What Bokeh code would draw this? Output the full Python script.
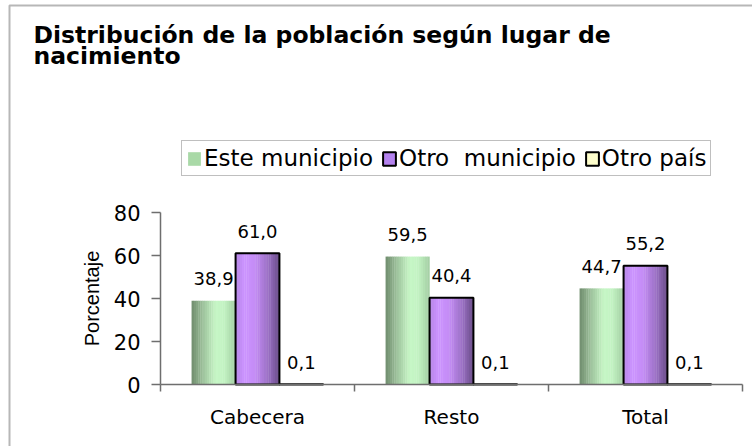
import numpy as np
from bokeh.plotting import figure
from bokeh.models import (FixedTicker, Label, Legend, LegendItem, Range1d,
                          LinearAxis, BoxAnnotation)
from bokeh.core.properties import value
from bokeh.embed import file_html
from bokeh.resources import INLINE

# ---------------- data ----------------
categories = ["Cabecera", "Resto", "Total"]
series_names = ["Este municipio", "Otro  municipio", "Otro país"]
este_municipio = [38.9, 59.5, 44.7]
otro_municipio = [61.0, 40.4, 55.2]
otro_pais = [0.1, 0.1, 0.1]
y_ticks = [0, 20, 40, 60, 80]
title_lines = ["Distribución de la población según lugar de", "nacimiento"]
y_label = "Porcentaje"

# ---------------- layout / style ----------------
W, H = 752, 446
PX_X0, PX_X1 = 160, 742      # canvas x of the category axis start / end
PX_Y0, PX_Y1 = 384, 212      # canvas y of value axis 0 / 80
BAR_W = 0.226
N_STRIPS = 20
AXIS_COLOR = "#6e6e6e"
GREEN_STOPS = [(0.0, "#6f8c6d"), (0.25, "#9dc09b"), (0.55, "#c6f7c6"), (0.75, "#c2f2c2"), (1.0, "#a3cda3")]
PURPLE_STOPS = [(0.0, "#b585e6"), (0.2, "#cc94ff"), (0.45, "#c48cf5"), (0.75, "#9a70c4"), (1.0, "#6a4c88")]
YELLOW_STOPS = [(0.0, "#ffffcc"), (1.0, "#ffffcc")]


def hex_to_rgb(h):
    h = h.lstrip("#")
    return np.array([int(h[i:i + 2], 16) for i in (0, 2, 4)], dtype=float)


def palette_from_stops(stops, n):
    ts = np.array([s[0] for s in stops])
    cols = np.array([hex_to_rgb(s[1]) for s in stops])
    out = []
    for k in range(n):
        t = (k + 0.5) / n
        rgb = [np.interp(t, ts, cols[:, c]) for c in range(3)]
        out.append("#%02x%02x%02x" % tuple(int(round(v)) for v in rgb))
    return out


ncat = len(categories)
x_px = (PX_X1 - PX_X0) / ncat
x_start = -PX_X0 / x_px
x_end = ncat + (W - PX_X1) / x_px
y_px = (PX_Y0 - PX_Y1) / (y_ticks[-1] - y_ticks[0])
y_start = y_ticks[0] - (H - PX_Y0) / y_px
y_end = y_ticks[-1] + PX_Y1 / y_px

p = figure(width=W, height=H,
           x_range=Range1d(x_start, x_end), y_range=Range1d(y_start, y_end),
           output_backend="svg", toolbar_location=None,
           x_axis_type=None, y_axis_type=None, min_border=0)
p.background_fill_color = "white"
p.border_fill_color = "white"
p.outline_line_color = None
p.grid.visible = False

# outer frame of the picture (only left/top edges fall inside)
p.add_layout(BoxAnnotation(left=9, top=5, right=W + 20, bottom=H + 20,
                           left_units="canvas", top_units="canvas",
                           right_units="canvas", bottom_units="canvas",
                           fill_alpha=0, line_color="#111111", line_width=2))

values_list = [este_municipio, otro_municipio, otro_pais]
offsets = [-BAR_W, 0.0, BAR_W]
stops_list = [GREEN_STOPS, PURPLE_STOPS, YELLOW_STOPS]
outline = [None, "black", "black"]

for vals, off, stops, oc in zip(values_list, offsets, stops_list, outline):
    centers = [i + 0.5 + off for i in range(len(vals))]
    pal = palette_from_stops(stops, N_STRIPS)
    sw = BAR_W / N_STRIPS
    for k in range(N_STRIPS):
        dx = -BAR_W / 2 + (k + 0.5) * sw
        p.vbar(x=[c + dx for c in centers], top=vals, bottom=0, width=sw * 1.15,
               fill_color=pal[k], line_color=None)
    if oc is not None:
        p.vbar(x=centers, top=vals, bottom=0, width=BAR_W, fill_color=None,
               line_color=oc, line_width=2)

# value labels
lx, ly, lt = [], [], []
for vals, off in zip(values_list, offsets):
    for i, v in enumerate(vals):
        lx.append(i + 0.5 + off)
        ly.append(v)
        lt.append(f"{v:.1f}".replace(".", ","))
p.text(x=lx, y=ly, text=lt, text_align="center", text_baseline="alphabetic",
       y_offset=-22, text_font=value("DejaVu Sans"), text_font_size="18px",
       text_color="black")

# axes (placed at the data origin)
xa = LinearAxis(fixed_location=0, bounds=(0, ncat))
xa.ticker = FixedTicker(ticks=[i + 0.5 for i in range(ncat)],
                        minor_ticks=list(range(ncat + 1)))
xa.major_label_overrides = {i + 0.5: c for i, c in enumerate(categories)}
xa.major_tick_line_color = None
xa.major_tick_out = 0
xa.major_tick_in = 0
xa.minor_tick_line_color = AXIS_COLOR
xa.minor_tick_line_width = 1.5
xa.minor_tick_out = 7
xa.minor_tick_in = 0
xa.axis_line_color = AXIS_COLOR
xa.axis_line_width = 1.5
xa.major_label_text_font = "DejaVu Sans"
xa.major_label_text_font_size = "20px"
xa.major_label_text_color = "black"
xa.major_label_standoff = 13
p.add_layout(xa, "below")

ya = LinearAxis(fixed_location=0, bounds=(y_ticks[0], y_ticks[-1]))
ya.ticker = FixedTicker(ticks=y_ticks)
ya.major_tick_out = 9
ya.major_tick_in = 0
ya.major_tick_line_color = AXIS_COLOR
ya.major_tick_line_width = 1.5
ya.minor_tick_line_color = None
ya.axis_line_color = AXIS_COLOR
ya.axis_line_width = 1.5
ya.major_label_text_font = "DejaVu Sans"
ya.major_label_text_font_size = "21px"
ya.major_label_text_color = "black"
ya.major_label_standoff = 11
ya.axis_label = y_label
ya.axis_label_text_font = "Liberation Sans"
ya.axis_label_text_font_size = "20px"
ya.axis_label_text_font_style = "normal"
ya.axis_label_text_color = "black"
ya.axis_label_standoff = 8
p.add_layout(ya, "left")

# legend (style-only renderers, drawn off-data)
nan = float("nan")
leg_r = [
    p.vbar(x=[nan], top=[nan], width=0.1, fill_color="#a9d9a7", line_color=None),
    p.vbar(x=[nan], top=[nan], width=0.1, fill_color="#b482ee", line_color="black", line_width=2),
    p.vbar(x=[nan], top=[nan], width=0.1, fill_color="#ffffcc", line_color="black", line_width=2),
]
legend = Legend(items=[LegendItem(label=n, renderers=[r]) for n, r in zip(series_names, leg_r)],
                location=(181, H - 176), orientation="horizontal",
                label_text_font="DejaVu Sans", label_text_font_size="23px",
                label_text_color="black",
                glyph_width=16, glyph_height=17, label_standoff=2, spacing=8,
                padding=4, margin=0,
                border_line_color="#808080", border_line_width=1,
                background_fill_color="white", background_fill_alpha=1)
p.add_layout(legend)

# title
for j, line in enumerate(title_lines):
    p.add_layout(Label(x=33, y=34 + j * 21.6, x_units="canvas", y_units="canvas",
                       text=line, text_font="DejaVu Sans", text_font_style="bold",
                       text_font_size="23.5px", text_baseline="alphabetic",
                       text_color="black"))

open("out.html", "w").write(file_html(p, INLINE))
